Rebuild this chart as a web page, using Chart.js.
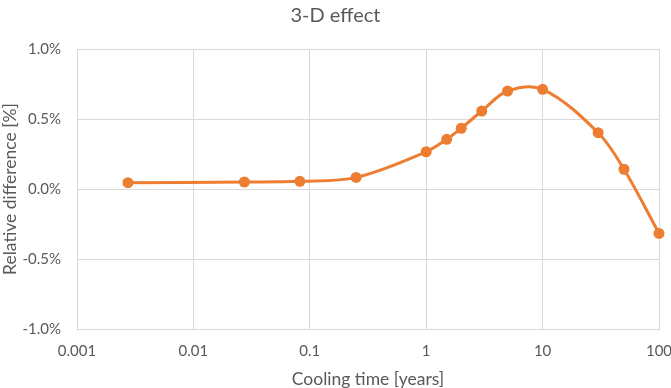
<!DOCTYPE html>
<html>
<head>
<meta charset="utf-8">
<script src="https://cdn.jsdelivr.net/npm/chart.js@4.4.1/dist/chart.umd.min.js"></script>
<style>
  html, body { margin: 0; padding: 0; background: #ffffff; }
</style>
</head>
<body>
<canvas id="chart" width="671" height="388"></canvas>
<script>
// cooling time in years, relative difference in %
var coolingTime = [0.00274, 0.0274, 0.0822, 0.25, 1, 1.5, 2, 3, 5, 10, 30, 50, 100];
var relDiff = [0.045, 0.050, 0.055, 0.083, 0.266, 0.355, 0.434, 0.557, 0.700, 0.712, 0.402, 0.141, -0.317];
var xTicks = [0.001, 0.01, 0.1, 1, 10, 100];
var xTickLabels = ['0.001', '0.01', '0.1', '1', '10', '100'];
var yTicks = [-1.0, -0.5, 0.0, 0.5, 1.0];

var textColor = '#595959';
var gridColor = '#d9d9d9';
var orange = '#ED7D31';
var fontName = 'Lato, "Open Sans", sans-serif';

var points = coolingTime.map(function (t, i) {
  return { x: t, y: relDiff[i] };
});

var ctx = document.getElementById('chart').getContext('2d');
var chart = new Chart(ctx, {
  type: 'line',
  data: {
    datasets: [{
      label: '3-D effect',
      data: points,
      borderColor: orange,
      backgroundColor: orange,
      borderWidth: 3,
      tension: 0.35,
      pointRadius: 5.5,
      pointHoverRadius: 5.5,
      pointBackgroundColor: orange,
      pointBorderWidth: 0,
      clip: false
    }]
  },
  options: {
    responsive: false,
    animation: false,
    layout: { padding: { left: 0, right: 0, top: 0, bottom: 0 } },
    plugins: {
      legend: { display: false },
      tooltip: { enabled: false },
      title: {
        display: true,
        text: '3-D effect',
        color: textColor,
        font: { family: fontName, size: 20, weight: 'normal', lineHeight: 1.2 },
        padding: { top: 4, bottom: 21 }
      }
    },
    scales: {
      x: {
        type: 'logarithmic',
        min: 0.001,
        max: 100,
        afterBuildTicks: function (s) {
          s.ticks = xTicks.map(function (v) { return { value: v }; });
        },
        afterFit: function (s) {
          s.height = 59;
          s.paddingLeft = 0;
          s.paddingRight = 12;
        },
        ticks: {
          color: textColor,
          font: { family: fontName, size: 15 },
          padding: 13,
          maxRotation: 0,
          autoSkip: false,
          callback: function (v, i) { return xTickLabels[i]; }
        },
        grid: { color: gridColor, drawTicks: false },
        border: { color: gridColor },
        title: {
          display: true,
          text: 'Cooling time [years]',
          color: textColor,
          font: { family: fontName, size: 17.5, lineHeight: 1 },
          padding: { top: 0, bottom: 0 }
        }
      },
      y: {
        min: -1,
        max: 1,
        afterBuildTicks: function (s) {
          s.ticks = yTicks.map(function (v) { return { value: v }; });
        },
        afterFit: function (s) { s.width = 77; },
        ticks: {
          color: textColor,
          font: { family: fontName, size: 15 },
          padding: 16,
          callback: function (v) { return v.toFixed(1) + '%'; }
        },
        grid: { color: gridColor, drawTicks: false },
        border: { color: gridColor },
        title: {
          display: true,
          text: 'Relative difference [%]',
          color: textColor,
          font: { family: fontName, size: 17.5, lineHeight: 1 },
          padding: { top: 2, bottom: 0 }
        }
      }
    }
  }
});
</script>
</body>
</html>
